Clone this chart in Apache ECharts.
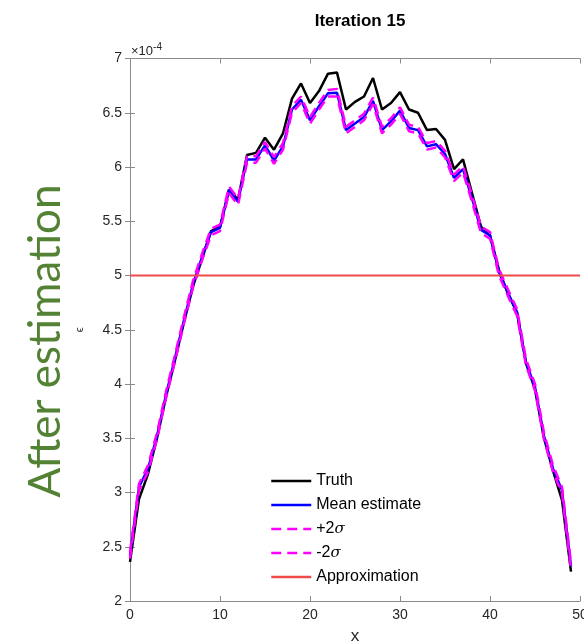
<!DOCTYPE html>
<html>
<head>
<meta charset="utf-8">
<script src="https://cdn.jsdelivr.net/npm/echarts@6/dist/echarts.min.js"></script>
<style>html,body{margin:0;padding:0;background:#fff}#c{width:584px;height:643px}</style>
</head>
<body>
<div id="c"></div>
<script>
// values in units of 1e-4
var xs = [0,1,2,3,4,5,6,7,8,9,10,11,12,13,14,15,16,17,18,19,20,21,22,23,24,25,26,27,28,29,30,31,32,33,34,35,36,37,38,39,40,41,42,43,44,45,46,47,48,49];
var truth = [2.36,2.94,3.17,3.50,3.88,4.22,4.57,4.90,5.15,5.41,5.45,5.79,5.70,6.11,6.13,6.27,6.16,6.31,6.63,6.77,6.59,6.70,6.86,6.87,6.53,6.60,6.65,6.82,6.53,6.59,6.69,6.53,6.50,6.34,6.35,6.25,5.98,6.07,5.76,5.45,5.37,5.05,4.83,4.66,4.19,3.95,3.50,3.20,2.93,2.27];
var meanEst = [2.42,3.05,3.22,3.52,3.90,4.24,4.59,4.92,5.17,5.40,5.44,5.79,5.68,6.07,6.07,6.20,6.06,6.19,6.53,6.62,6.43,6.56,6.68,6.685,6.34,6.40,6.46,6.61,6.34,6.42,6.52,6.36,6.34,6.19,6.21,6.12,5.90,5.98,5.71,5.42,5.37,5.03,4.84,4.66,4.20,3.97,3.52,3.22,3.02,2.32];
var plus2 = [2.45,3.08,3.25,3.55,3.93,4.27,4.62,4.95,5.20,5.43,5.47,5.82,5.71,6.10,6.10,6.23,6.09,6.22,6.56,6.65,6.46,6.59,6.71,6.72,6.37,6.43,6.49,6.64,6.37,6.45,6.55,6.39,6.37,6.22,6.24,6.15,5.93,6.01,5.74,5.45,5.40,5.06,4.87,4.69,4.23,4.00,3.55,3.25,3.05,2.35];
var minus2 = [2.39,3.02,3.19,3.49,3.87,4.21,4.56,4.89,5.14,5.37,5.41,5.76,5.65,6.04,6.04,6.17,6.03,6.16,6.50,6.59,6.40,6.53,6.65,6.65,6.31,6.37,6.43,6.58,6.31,6.39,6.49,6.33,6.31,6.16,6.18,6.09,5.87,5.95,5.68,5.39,5.34,5.00,4.81,4.63,4.17,3.94,3.49,3.19,2.99,2.29];
var approxX = [0, 50];
var approxY = [5, 5];
var xTicks = [0,10,20,30,40,50];
var yTicks = [2,2.5,3,3.5,4,4.5,5,5.5,6,6.5,7];

function pairs(a, b){ return a.map(function(v,i){ return [v, b[i]]; }); }

var chart = echarts.init(document.getElementById('c'), null, {renderer:'canvas'});
var FONT = 'Liberation Sans';
var axisLineColor = '#8a8a8a';
var textColor = '#262626';
function baseAxis(extra){
  return Object.assign({
    type:'value',
    axisLine:{show:true, lineStyle:{color:axisLineColor, width:1}},
    axisTick:{show:true, inside:true, length:5, lineStyle:{color:axisLineColor}},
    splitLine:{show:false},
    axisLabel:{color:textColor, fontFamily:FONT, fontSize:14}
  }, extra);
}
var option = {
  animation:false,
  backgroundColor:'#fff',
  title:{text:'Iteration 15', left:355, textAlign:'center', top:8,
    textStyle:{fontFamily:FONT, fontWeight:'bold', fontSize:17, color:'#000'}},
  grid:{left:130, right:4, top:58.5, bottom:42, containLabel:false, outerBoundsMode:'none'},
  xAxis:[
    baseAxis({min:xTicks[0], max:xTicks[xTicks.length-1], interval:10, position:'bottom',
      name:'x', nameLocation:'middle', nameGap:27,
      nameTextStyle:{fontFamily:FONT, fontSize:17, color:textColor},
      axisLabel:{color:textColor, fontFamily:FONT, fontSize:14, margin:7}}),
    baseAxis({min:xTicks[0], max:xTicks[xTicks.length-1], interval:10, position:'top', axisLabel:{show:false}})
  ],
  yAxis:[
    baseAxis({min:yTicks[0], max:yTicks[yTicks.length-1], interval:0.5, position:'left',
      name:'\u03F5', nameLocation:'middle', nameGap:45, nameRotate:90,
      nameTextStyle:{fontFamily:FONT, fontSize:11, color:textColor},
      axisLabel:{color:textColor, fontFamily:FONT, fontSize:14, margin:8}}),
    baseAxis({min:yTicks[0], max:yTicks[yTicks.length-1], interval:0.5, position:'right', axisLabel:{show:false}})
  ],
  legend:{
    orient:'vertical', left:270, top:473, padding:0, itemWidth:40, itemHeight:14, itemGap:8,
    itemStyle:{opacity:0},
    lineStyle:{width:2.5},
    textStyle:{fontFamily:FONT, fontSize:16, color:'#000',
      rich:{i:{fontFamily:'DejaVu Serif', fontStyle:'italic', fontSize:15, color:'#000'}}},
    formatter:function(n){ return n.replace('\u03C3','{i|\u03C3}'); },
    data:['Truth','Mean estimate','+2\u03C3','-2\u03C3','Approximation']
  },
  series:[
    {name:'Truth', type:'line', data:pairs(xs,truth), symbol:'none', lineStyle:{color:'#000', width:2.5}, itemStyle:{color:'#000'}, z:2},
    {name:'Mean estimate', type:'line', data:pairs(xs,meanEst), symbol:'none', lineStyle:{color:'#0000ff', width:2.5}, itemStyle:{color:'#0000ff'}, z:3},
    {name:'+2\u03C3', type:'line', data:pairs(xs,plus2), symbol:'none', lineStyle:{color:'#ff00ff', width:2.5, type:[10,6]}, itemStyle:{color:'#ff00ff'}, z:4},
    {name:'-2\u03C3', type:'line', data:pairs(xs,minus2), symbol:'none', lineStyle:{color:'#ff00ff', width:2.5, type:[10,6]}, itemStyle:{color:'#ff00ff'}, z:4},
    {name:'Approximation', type:'line', data:pairs(approxX,approxY), symbol:'none', lineStyle:{color:'#f04a4a', width:2}, itemStyle:{color:'#f04a4a'}, z:5}
  ],
  graphic:[
    {type:'text', left:131, top:42, style:{text:'\u00D710{s|-4}', font:'13px "Liberation Sans"', fill:textColor,
      rich:{s:{fontSize:10, verticalAlign:'top', padding:[0,0,9,0], fontFamily:FONT, fill:textColor}}}},
    {type:'text', x:46, y:341, rotation:Math.PI/2,
      style:{text:'After estimation', font:'44px Lato', fill:'#548235', textAlign:'center', textVerticalAlign:'middle'}}
  ]
};
chart.setOption(option);
</script>
</body>
</html>
